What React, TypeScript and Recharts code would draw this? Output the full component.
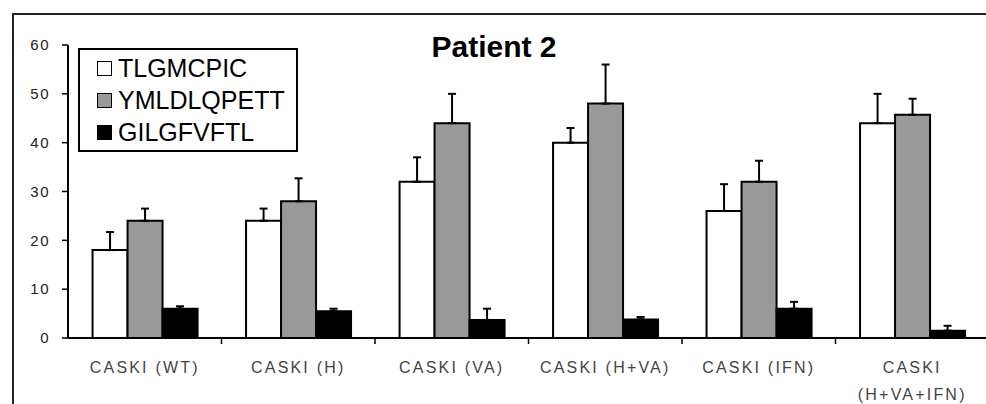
import React from 'react';
import { BarChart, Bar, XAxis, YAxis, ErrorBar } from 'recharts';

const categories = ['CASKI (WT)', 'CASKI (H)', 'CASKI (VA)', 'CASKI (H+VA)', 'CASKI (IFN)', 'CASKI (H+VA+IFN)'];
const seriesNames = ['TLGMCPIC', 'YMLDLQPETT', 'GILGFVFTL'];
const seriesFills = ['#ffffff', '#999999', '#000000'];

const tlgValues = [18, 24, 32, 40, 26, 44];
const tlgErrors = [3.7, 2.5, 5, 3, 5.5, 6];
const ymlValues = [24, 28, 44, 48, 32, 45.7];
const ymlErrors = [2.5, 4.7, 6, 8, 4.3, 3.3];
const gilValues = [6, 5.5, 3.7, 3.8, 6, 1.5];
const gilErrors = [0.5, 0.5, 2.3, 0.5, 1.4, 1];

const yTicks = [0, 10, 20, 30, 40, 50, 60];

const data = categories.map((name, i) => ({
  name,
  s0: tlgValues[i],
  e0: [0, tlgErrors[i]],
  s1: ymlValues[i],
  e1: [0, ymlErrors[i]],
  s2: gilValues[i],
  e2: [0, gilErrors[i]],
}));

const FONT = '"Liberation Sans", Arial, sans-serif';
const BAND = 921 / categories.length;

const CategoryTick = (props: any) => {
  const { x, y, payload, index } = props;
  const label: string = payload.value;
  const lines = label.length > 14 ? [label.slice(0, 5), label.slice(6)] : [label];
  return (
    <g>
      {index > 0 && (
        <line x1={x - BAND / 2} x2={x - BAND / 2} y1={y} y2={y + 6} stroke="#000" strokeWidth={1.5} />
      )}
      {lines.map((l, i) => (
        <text
          key={i}
          x={x}
          y={y + 35 + i * 27}
          textAnchor="middle"
          fontFamily={FONT}
          fontSize={16}
          letterSpacing={2.2}
          fill="#444"
        >
          {l}
        </text>
      ))}
    </g>
  );
};

const LegendBox = () => (
  <div
    style={{
      position: 'absolute',
      left: 78,
      top: 48,
      width: 216,
      height: 98,
      border: '2px solid #000',
      background: '#fff',
      fontFamily: FONT,
      fontSize: 25,
      color: '#000',
      paddingTop: 2,
      zIndex: 3,
    }}
  >
    {seriesNames.map((n, i) => (
      <div key={n} style={{ display: 'flex', alignItems: 'center', height: 32, paddingLeft: 17 }}>
        <span
          style={{
            display: 'inline-block',
            width: 13,
            height: 13,
            background: seriesFills[i],
            border: '1.5px solid #000',
            marginRight: 6,
          }}
        />
        <span>{n}</span>
      </div>
    ))}
  </div>
);

export default function App() {
  return (
    <div style={{ position: 'fixed', left: 0, top: 0, width: 986, height: 404, overflow: 'hidden', background: '#fff' }}>
      <div
        style={{
          position: 'absolute',
          left: 12,
          top: 13,
          width: 1200,
          height: 800,
          borderLeft: '2px solid #222',
          borderTop: '2px solid #222',
        }}
      />
      <div
        style={{
          position: 'absolute',
          left: 0,
          width: 988,
          top: 30,
          textAlign: 'center',
          fontFamily: FONT,
          fontWeight: 'bold',
          fontSize: 30,
          lineHeight: '34px',
          zIndex: 2,
        }}
      >
        Patient 2
      </div>
      <div style={{ position: 'absolute', left: 0, top: 0 }}>
        <BarChart
          width={1000}
          height={404}
          data={data}
          margin={{ top: 45, right: 11, bottom: 0, left: 0 }}
          barCategoryGap="16%"
          barGap={0}
        >
          <XAxis
            dataKey="name"
            height={66}
            axisLine={{ stroke: '#000', strokeWidth: 2 }}
            tickLine={false}
            tickSize={0}
            tickMargin={0}
            interval={0}
            tick={<CategoryTick />}
          />
          <YAxis
            width={68}
            domain={[0, 60]}
            ticks={yTicks}
            interval={0}
            axisLine={{ stroke: '#000', strokeWidth: 2 }}
            tickLine={{ stroke: '#000', strokeWidth: 1.5 }}
            tickSize={6}
            tickMargin={12}
            tick={{ fill: '#222', fontSize: 15, fontFamily: FONT, letterSpacing: 1.5 }}
          />
          <Bar dataKey="s0" name={seriesNames[0]} fill={seriesFills[0]} stroke="#000" strokeWidth={2} isAnimationActive={false}>
            <ErrorBar dataKey="e0" direction="y" width={4} stroke="#000" strokeWidth={2} />
          </Bar>
          <Bar dataKey="s1" name={seriesNames[1]} fill={seriesFills[1]} stroke="#000" strokeWidth={2} isAnimationActive={false}>
            <ErrorBar dataKey="e1" direction="y" width={4} stroke="#000" strokeWidth={2} />
          </Bar>
          <Bar dataKey="s2" name={seriesNames[2]} fill={seriesFills[2]} stroke="#000" strokeWidth={2} isAnimationActive={false}>
            <ErrorBar dataKey="e2" direction="y" width={4} stroke="#000" strokeWidth={2} />
          </Bar>
        </BarChart>
      </div>
      <LegendBox />
    </div>
  );
}
